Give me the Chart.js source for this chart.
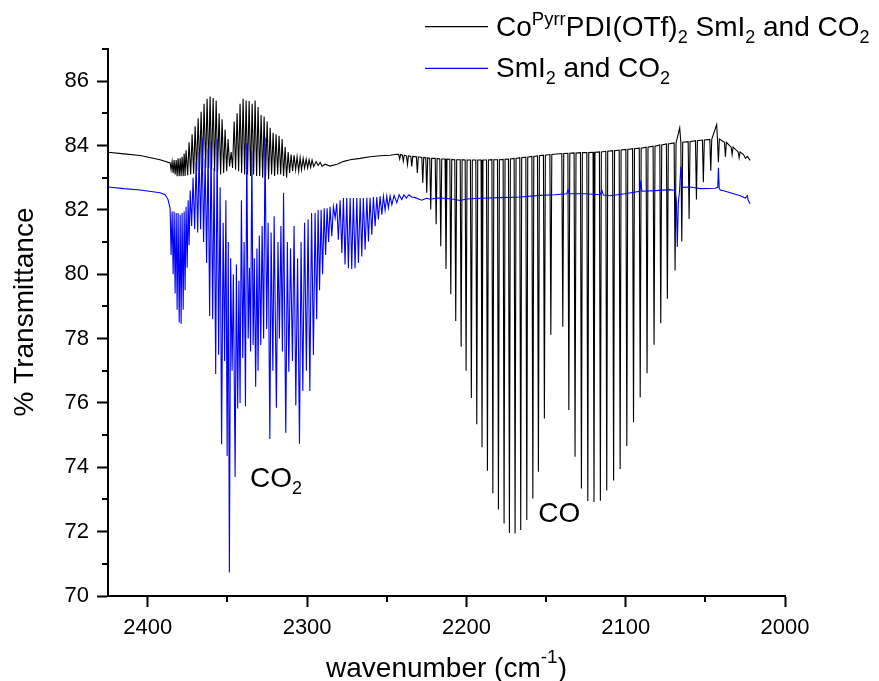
<!DOCTYPE html>
<html><head><meta charset="utf-8">
<script src="https://cdn.jsdelivr.net/npm/chart.js@4.4.0/dist/chart.umd.min.js"></script>
<style>html,body{margin:0;padding:0;background:#fff;}canvas{display:block;}</style>
</head><body>
<canvas id="c" width="879" height="681"></canvas>
<script>
// ---------- DATA ----------
const xTicks = [2400, 2300, 2200, 2100, 2000];
const xMinorTicks = [2350, 2250, 2150, 2050];
const yTicks = [70, 72, 74, 76, 78, 80, 82, 84, 86];
const yMinorTicks = [71, 73, 75, 77, 79, 81, 83, 85, 87];

// Black trace (CoPyrrPDI(OTf)2 + SmI2 + CO2): baseline + CO2 region
const blackBaseWn = [2424.9,2415.0,2404.8,2392.3,2386.0,2385.4,2384.75,2384.1,2383.5,2382.85,2382.2,2381.6,2381.0,2380.3,2379.7,2379.1,2378.5,2377.8,2377.2,2376.6,
2376.0,2375.0,2374.1,2373.1,2372.2,2371.25,2370.3,2369.4,2368.4,2367.5,2366.55,2365.6,2364.7,2363.7,2362.8,2361.8,2360.9,2360.0,2359.0,2358.1,
2357.1,2356.2,2355.25,2354.3,2353.4,2352.4,2351.5,2350.5,2349.6,2348.7,2347.7,2346.8,2345.8,2344.9,2343.95,2343.0,2342.1,2341.1,2340.2,2339.2,
2338.3,2337.4,2336.4,2335.5,2334.5,2333.6,2332.65,2331.7,2330.8,2329.8,2328.9,2327.9,2327.0,2326.1,2325.1,2324.2,2323.2,2322.3,2321.35,2320.4,
2319.5,2318.5,2317.6,2316.6,2315.7,2314.8,2313.8,2312.9,2311.9,2311.0,2310.05,2309.1,2308.2,2307.2,2306.3,2305.3,2304.4,2303.5,2302.5,2301.6,
2300.6,2299.7,2298.75,2297.8,2296.9,2295.9,2294.35,2293.1,2291.8,2290.6,2288.7,2285.6,2281.2,2277.4,2273.0,2266.7,2260.5,2254.2,2247.9,2243.5,
2066.1,2042.9,2026.0,2024.8,2023.6,2021.9];
const blackBaseT = [83.79,83.74,83.69,83.56,83.46,83.25,83.5,83.15,83.55,83.1,83.55,83.05,83.6,83.05,83.6,83.05,83.65,83.05,83.75,83.05,
83.85,83.08,84.1,83.1,84.35,83.12,84.6,83.2,84.85,83.25,85.05,83.3,85.3,83.3,85.45,83.3,85.52,83.25,85.48,83.2,
85.4,83.2,85.0,83.1,84.82,83.15,84.5,83.2,84.2,83.35,83.8,83.3,84.75,83.25,85.0,83.2,85.3,83.15,85.45,83.1,
85.4,83.1,85.38,83.05,85.3,83.1,85.4,83.05,85.2,83.05,84.95,83.0,84.9,83.05,84.75,82.95,84.55,83.1,84.4,83.05,
84.35,83.1,84.3,83.1,84.2,83.05,83.95,83.0,83.8,83.15,83.72,83.2,83.7,83.25,83.65,83.2,83.62,83.25,83.6,83.3,
83.58,83.3,83.56,83.32,83.55,83.35,83.5,83.38,83.48,83.36,83.42,83.36,83.42,83.5,83.56,83.6,83.65,83.68,83.7,83.73,
84.55,84.65,83.72,83.6,83.66,83.54];

// CO rotational lines in the black trace: position, minimum, local top
const coLineWn = [2241.9,2239.6,2237.0,2234.3,2230.8,2227.4,2224.9,2222.4,2219.0,2216.1,2212.8,2209.8,2206.7,2203.3,2200.2,2196.9,2193.5,2190.2,2186.8,2183.4,
2179.9,2176.35,2173.0,2169.45,2165.9,2162.1,2158.3,2154.8,2151.05,2147.0,
2139.5,2135.7,2131.8,2127.8,2123.8,2119.9,2115.9,2111.9,2107.6,2103.5,2099.3,2095.1,2090.9,2086.6,2082.2,2078.0,2073.85,2069.0,2064.8,2060.2,
2055.6,2051.25,2046.6,2041.8,2037.4,2033.2,2028.8];
const coLineMin = [83.58,83.51,83.41,83.35,83.15,82.84,82.53,82.01,81.55,80.87,80.16,79.38,78.55,77.75,77.0,76.15,75.34,74.62,73.89,73.19,
72.69,72.25,71.96,71.94,72.05,72.36,73.03,73.86,75.52,78.12,
78.37,75.78,74.33,73.34,72.95,72.92,72.96,73.28,73.59,73.95,74.66,75.4,76.17,76.92,77.81,78.48,79.24,80.12,81.02,81.72,
82.32,82.86,83.22,83.48,83.65,83.72,83.62];
const coLineTop = [83.72,83.7,83.68,83.66,83.65,83.63,83.62,83.6,83.6,83.58,83.58,83.57,83.56,83.56,83.55,83.55,83.55,83.55,83.55,83.56,
83.56,83.57,83.58,83.6,83.62,83.64,83.66,83.68,83.7,83.72,
83.75,83.76,83.77,83.78,83.78,83.79,83.8,83.82,83.84,83.86,83.88,83.9,83.92,83.95,83.98,84.02,84.05,84.08,84.1,84.12,
84.15,84.17,84.19,84.2,84.1,83.95,83.8];

// Blue trace (SmI2 + CO2)
const blueWn = [2424.9,2415.0,2404.8,2392.3,2389.1,2387.3,2386.0,2385.4,2384.75,2384.1,2383.5,2382.85,2382.2,2381.6,2381.0,2380.3,2379.7,2379.1,2378.5,2377.8,
2377.2,2376.6,2376.0,2375.3,2374.7,2374.1,2373.4,2372.5,2371.6,2370.6,2369.7,2368.7,2367.8,2366.85,2365.9,2365.0,2364.0,2363.1,2362.15,2361.2,
2360.3,2359.3,2358.4,2357.4,2356.5,2355.55,2354.6,2353.7,2352.7,2351.8,2351.0,2350.2,2349.5,2348.8,2348.0,2347.1,2346.3,2345.2,2344.4,2343.6,
2342.8,2342.1,2341.25,2340.4,2339.55,2338.7,2337.9,2337.0,2336.2,2335.5,2334.7,2333.9,2333.15,2332.3,2331.5,2330.8,2330.0,2329.1,2328.25,2327.3,
2326.4,2325.4,2324.5,2323.4,2322.6,2321.5,2320.7,2319.3,2318.3,2317.4,2316.45,2315.5,2314.8,2313.4,2312.4,2311.5,2310.4,2309.2,2308.2,2307.1,
2306.0,2304.8,2303.8,2302.7,2301.6,2300.45,2299.4,2298.3,2297.2,2296.05,2295.0,2294.0,2293.1,2292.2,2291.2,2290.3,2289.3,2288.4,2287.45,2286.5,
2285.6,2284.5,2283.5,2282.4,2281.4,2280.4,2279.3,2278.2,2277.2,2276.2,2275.1,2274.1,2273.0,2272.0,2270.95,2269.9,2268.8,2267.8,2266.7,2265.7,
2264.7,2263.6,2262.5,2261.5,2260.5,2259.4,2258.4,2257.3,2256.25,2255.25,2254.2,2253.1,2252.1,2251.05,2250.0,2249.0,2247.9,2246.8,2245.4,2243.7,
2242.25,2240.6,2239.2,2237.7,2236.1,2234.4,2232.2,2228,2225,2222.8,2218,2213.4,2208,2204.0,2200,2191.4,2178.9,2166.3,2153.8,2144.4,
2137.0,2136.2,2135.4,2125.6,2116.1,2114.9,2114.0,2109.9,2100.5,2091.1,2090.5,2089.9,2081.6,2072.3,2069.0,2068.2,2067.6,2067.0,2066.2,2065.4,
2064.6,2059.4,2053.2,2043.8,2042.2,2041.8,2041.3,2040.6,2037.5,2028.1,2025.0,2023.6,2023.1,2021.9];
const blueT = [82.71,82.66,82.62,82.53,82.47,82.32,82.05,80.6,81.95,80.0,81.95,79.4,81.9,78.9,81.9,78.5,81.85,78.45,81.9,78.9,
81.95,79.5,82.1,80.2,82.3,80.9,82.6,81.5,83.0,81.4,83.5,81.3,83.8,81.4,84.24,81.0,83.6,80.35,83.9,78.7,
84.1,78.6,83.3,76.9,84.2,77.5,82.7,74.72,81.6,77.3,82.3,74.35,81.0,70.73,80.5,77.0,80.0,73.7,80.3,75.83,
79.8,76.0,82.3,77.4,81.0,75.9,84.08,78.0,80.2,77.6,83.82,77.8,80.5,76.5,80.8,77.0,81.2,77.8,81.5,78.0,
84.24,78.3,81.6,74.88,81.3,77.0,81.8,75.85,81.0,78.0,81.5,77.6,82.53,75.07,81.0,76.97,80.8,77.3,81.5,75.92,
80.5,74.73,81.0,76.37,81.6,77.0,81.7,76.37,81.9,77.49,81.9,78.6,82.0,79.5,82.0,80.0,82.05,80.6,82.05,81.0,
82.1,81.18,82.1,81.75,82.2,81.07,82.3,80.66,82.37,80.3,82.37,80.19,82.37,80.16,82.37,80.19,82.37,80.35,82.37,80.55,
82.37,80.76,82.38,81.02,82.38,81.23,82.4,81.49,82.4,81.7,82.42,81.85,82.42,81.99,82.42,82.06,82.43,82.16,82.45,82.22,
82.47,82.32,82.47,82.37,82.47,82.4,82.38,82.3,82.36,82.33,82.37,82.36,82.33,82.29,82.34,82.36,82.38,82.4,82.45,82.47,
82.5,82.62,82.5,82.5,82.47,82.6,82.46,82.44,82.5,82.58,82.91,82.58,82.6,82.63,82.6,82.3,80.85,82.2,82.6,83.35,
82.7,82.71,82.66,82.67,82.7,83.31,82.66,82.62,82.58,82.44,82.37,82.44,82.3,82.19];

// ---------- BUILD ----------
const FONT = "'Liberation Sans', Arial, Helvetica, sans-serif";
const LINE_HALF = 0.6; // half width of a drawn rotational line (cm-1)

const blackPts = blackBaseWn.map((w, i) => ({x: w, y: blackBaseT[i]}));
coLineWn.forEach((w, i) => {
  blackPts.push({x: w + LINE_HALF, y: coLineTop[i]}, {x: w, y: coLineMin[i]}, {x: w - LINE_HALF, y: coLineTop[i]});
});
blackPts.sort((a, b) => a.x - b.x);
const bluePts = blueWn.map((w, i) => ({x: w, y: blueT[i]})).sort((a, b) => a.x - b.x);

function drawRich(ctx, x, y, parts, align) {
  let w = 0;
  parts.forEach(p => { ctx.font = p[1] + 'px ' + FONT; w += ctx.measureText(p[0]).width; });
  let cx = align === 'center' ? x - w / 2 : x;
  ctx.textAlign = 'left';
  ctx.textBaseline = 'alphabetic';
  parts.forEach(p => {
    ctx.font = p[1] + 'px ' + FONT;
    ctx.fillText(p[0], cx, y + p[2]);
    cx += ctx.measureText(p[0]).width;
  });
}

const decor = {
  id: 'decor',
  afterDraw(chart) {
    const ctx = chart.ctx, xs = chart.scales.x, ys = chart.scales.y, ca = chart.chartArea;
    ctx.save();
    ctx.strokeStyle = '#000';
    ctx.fillStyle = '#000';
    ctx.lineWidth = 2;
    // minor ticks
    xMinorTicks.forEach(v => {
      const px = Math.round(xs.getPixelForValue(v));
      ctx.beginPath(); ctx.moveTo(px, ca.bottom); ctx.lineTo(px, ca.bottom + 6); ctx.stroke();
    });
    yMinorTicks.forEach(v => {
      const py = Math.round(ys.getPixelForValue(v));
      ctx.beginPath(); ctx.moveTo(ca.left, py); ctx.lineTo(ca.left - 6, py); ctx.stroke();
    });
    // axis titles
    drawRich(ctx, (ca.left + ca.right) / 2, 676.5, [['wavenumber (cm', 28, 0], ['-1', 19, -14], [')', 28, 0]], 'center');
    ctx.save();
    ctx.translate(33, 312);
    ctx.rotate(-Math.PI / 2);
    drawRich(ctx, 0, 0, [['% Transmittance', 28, 0]], 'center');
    ctx.restore();
    // annotations
    drawRich(ctx, 250, 486.7, [['CO', 28, 0], ['2', 18, 7]], 'left');
    drawRich(ctx, 538.3, 521.7, [['CO', 28, 0]], 'left');
    // legend
    ctx.lineWidth = 1.2;
    ctx.strokeStyle = '#000000';
    ctx.beginPath(); ctx.moveTo(425, 26.7); ctx.lineTo(488, 26.7); ctx.stroke();
    ctx.strokeStyle = '#0000ff';
    ctx.beginPath(); ctx.moveTo(425, 68.3); ctx.lineTo(488, 68.3); ctx.stroke();
    ctx.fillStyle = '#000';
    drawRich(ctx, 496, 36, [['Co', 28, 0], ['Pyrr', 18.5, -11], ['PDI(OTf)', 28, 0], ['2', 18, 7], [' SmI', 28, 0], ['2', 18, 7], [' and CO', 28, 0], ['2', 18, 7]], 'left');
    drawRich(ctx, 496, 77.3, [['SmI', 28, 0], ['2', 18, 7], [' and CO', 28, 0], ['2', 18, 7]], 'left');
    ctx.restore();
  }
};

new Chart(document.getElementById('c'), {
  type: 'line',
  data: {
    datasets: [
      {label: 'SmI2 and CO2', data: bluePts, borderColor: '#0000ff', borderWidth: 1.1, pointRadius: 0, tension: 0, fill: false},
      {label: 'CoPyrrPDI(OTf)2 SmI2 and CO2', data: blackPts, borderColor: '#000000', borderWidth: 1.1, pointRadius: 0, tension: 0, fill: false}
    ]
  },
  options: {
    responsive: false,
    devicePixelRatio: 1,
    animation: false,
    events: [],
    layout: {padding: {top: 49, right: 94, left: 0, bottom: 0}},
    plugins: {legend: {display: false}, tooltip: {enabled: false}},
    scales: {
      x: {
        type: 'linear', min: 2000, max: 2425, reverse: true,
        afterBuildTicks: s => { s.ticks = xTicks.map(v => ({value: v})); },
        afterFit: s => { s.height = 85; },
        grid: {drawOnChartArea: false, drawTicks: true, tickLength: 11, tickWidth: 2, tickColor: '#000', color: '#000'},
        border: {display: true, color: '#000', width: 2},
        ticks: {color: '#000', font: {family: FONT, size: 22}, padding: 8, maxRotation: 0, autoSkip: false, callback: v => String(v)}
      },
      y: {
        type: 'linear', min: 70, max: 87,
        afterBuildTicks: s => { s.ticks = yTicks.map(v => ({value: v})); },
        afterFit: s => { s.width = 108; },
        grid: {drawOnChartArea: false, drawTicks: true, tickLength: 11, tickWidth: 2, tickColor: '#000', color: '#000'},
        border: {display: true, color: '#000', width: 2},
        ticks: {color: '#000', font: {family: FONT, size: 22}, padding: 8, autoSkip: false, callback: v => String(v)}
      }
    }
  },
  plugins: [decor]
});
</script>
</body></html>
